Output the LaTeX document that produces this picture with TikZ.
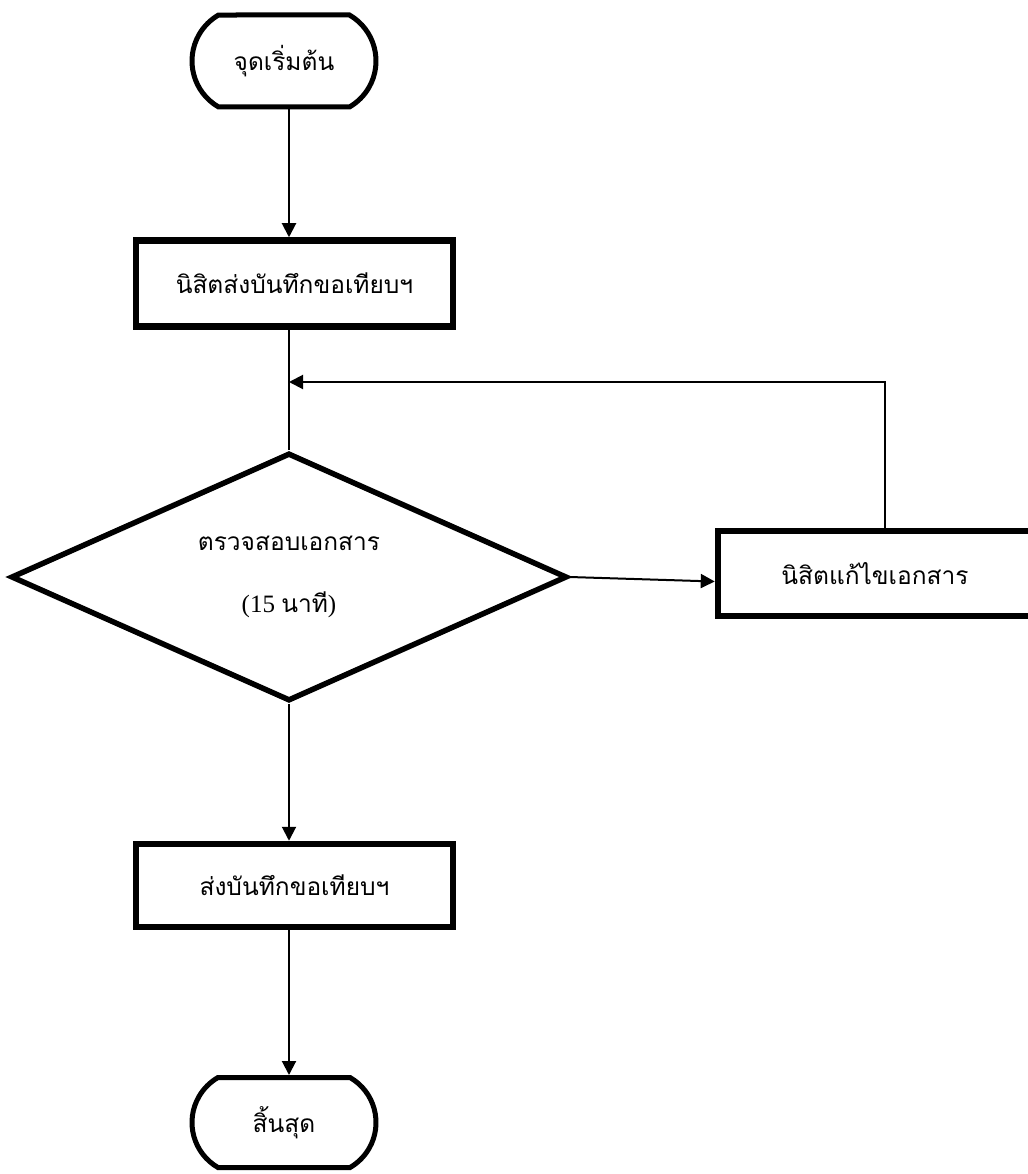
\documentclass[tikz,border=0pt]{standalone}
\usepackage{fontspec}
\setmainfont{Liberation Serif}
\newfontfamily\thai[Script=Thai]{Loma}
\usetikzlibrary{arrows.meta,shapes.geometric,shapes.misc}
\begin{document}
\begin{tikzpicture}[x=1pt,y=-1pt,
  txt/.style={font=\thai\fontsize{24.5}{28}\selectfont},
  term/.style={rounded rectangle, rounded rectangle arc length=120, draw, line width=5pt,
    minimum width=184pt, minimum height=92pt, inner sep=0pt, txt},
  proc/.style={rectangle, draw, line width=6.5pt, inner sep=0pt, txt},
  dec/.style={diamond, aspect=2.25, draw, line width=5.5pt, minimum width=556pt, minimum height=248pt,
    inner sep=0pt, align=center, txt},
  conn/.style={line width=2pt, -{Triangle[length=14pt,width=14pt]}},
  plain/.style={line width=2pt}]
\useasboundingbox (0,0) rectangle (1027,1174);
\coordinate (mx) at (289,0);
\node[term] (start) at (284,61) {จุดเริ่มต้น};
\node[proc, minimum width=317pt, minimum height=86pt] (b1) at (294.5,283.5) {นิสิตส่งบันทึกขอเทียบฯ};
\node[dec] (d) at (289,577) {ตรวจสอบเอกสาร\\[34pt]{\rmfamily\fontsize{25}{28}\selectfont(15 }นาที{\rmfamily\fontsize{25}{28}\selectfont)}};
\node[proc, minimum width=314pt, minimum height=85pt] (b2) at (875,573.5) {นิสิตแก้ไขเอกสาร};
\node[proc, minimum width=317pt, minimum height=83pt] (b3) at (294.5,885.5) {ส่งบันทึกขอเทียบฯ};
\node[term, minimum height=90pt] (end) at (284,1122.5) {สิ้นสุด};
\coordinate (j) at (289,382);
\draw[conn] (start.south -| mx) -- (b1.north -| mx);
\draw[plain] (b1.south -| mx) -- (d.north);
\draw[conn] (b2.north -| 885,0) |- (j);
\draw[conn] (d.east) -- ([yshift=-8pt]b2.west);
\draw[conn] (d.south) -- (b3.north -| mx);
\draw[conn] (b3.south -| mx) -- (end.north -| mx);
\end{tikzpicture}
\end{document}
